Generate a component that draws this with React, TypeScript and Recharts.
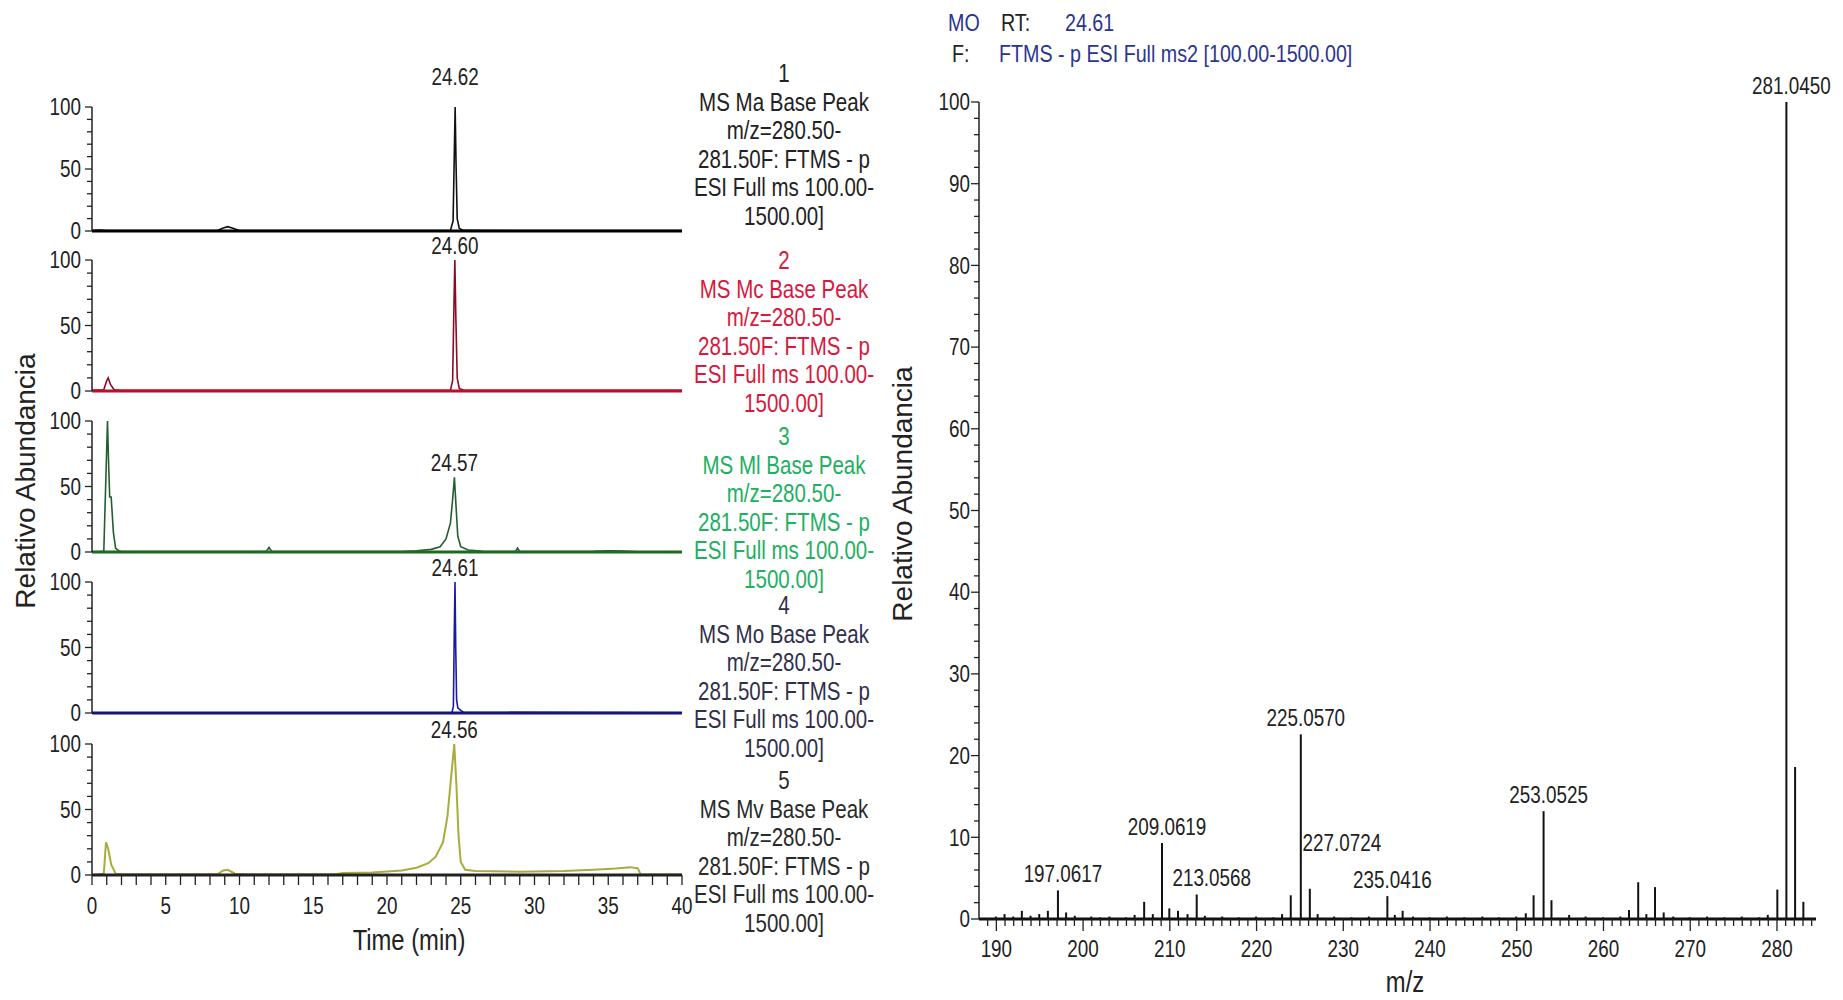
import React from "react";
import {
  LineChart,
  Line,
  XAxis,
  YAxis,
  ReferenceLine,
  ReferenceDot,
  BarChart,
  Bar,
  LabelList,
} from "recharts";

const FONT = '"Liberation Sans", Arial, sans-serif';
const SQ = 0.82; // the source figure is horizontally squeezed

// ---- chromatograms (time in min, relative abundance) ----
const maTrace: [number, number][] = [
  [0, 0.3], [0.5, 0.8], [1, 0.4], [8.5, 0.4], [8.9, 2.5], [9.2, 3.5], [9.6, 2], [10, 0.4],
  [24.3, 0.4], [24.48, 8], [24.56, 60], [24.62, 100], [24.68, 55], [24.76, 10], [24.9, 2],
  [25.2, 0.5], [40, 0.3],
];
const mcTrace: [number, number][] = [
  [0, 0.5], [0.8, 1], [1.0, 8], [1.1, 10], [1.25, 5], [1.5, 1], [2, 0.5], [24.3, 0.5],
  [24.45, 8], [24.53, 60], [24.6, 100], [24.67, 55], [24.76, 10], [24.9, 2], [25.2, 0.5],
  [40, 0.5],
];
const mlTrace: [number, number][] = [
  [0, 0], [0.8, 0.5], [0.95, 60], [1.05, 100], [1.12, 70], [1.2, 42], [1.3, 42], [1.45, 15],
  [1.6, 3], [1.8, 1], [2, 0.3], [11.8, 0.3], [12, 3.5], [12.2, 0.3], [21, 0.3], [22, 1],
  [23, 2], [23.6, 4], [24, 10], [24.3, 22], [24.45, 40], [24.57, 57], [24.68, 35], [24.8, 12],
  [25, 4], [25.5, 1.5], [26.5, 0.5], [28.7, 0.3], [28.85, 3], [29, 0.3], [34, 0.5], [35, 1],
  [36, 0.8], [37, 0.2], [40, 0.2],
];
const moTrace: [number, number][] = [
  [0, 0.2], [24.4, 0.2], [24.5, 5], [24.56, 60], [24.61, 100], [24.66, 50], [24.72, 10],
  [24.8, 4], [25.0, 2], [25.2, 0.5], [40, 0.2],
];
const mvTrace: [number, number][] = [
  [0, 0], [0.8, 1], [0.95, 25], [1.1, 20], [1.3, 8], [1.6, 1], [2, 0.5], [8.5, 0.5],
  [8.9, 3.5], [9.2, 4], [9.7, 1], [10.5, 0.5], [16.5, 0.5], [17, 1.5], [19, 2], [21, 3.5],
  [22, 5.5], [22.8, 9], [23.3, 14], [23.8, 25], [24.1, 45], [24.35, 75], [24.56, 100],
  [24.7, 70], [24.85, 30], [25.0, 10], [25.3, 4], [26, 3], [29, 2.5], [32, 3], [34, 4],
  [35.5, 5], [36.5, 6], [37, 5], [37.2, 0.5], [40, 0.3],
];

const peakTimes = [24.62, 24.6, 24.57, 24.61, 24.56];
const peakHeights = [100, 100, 57, 100, 100];
const sampleCodes = ["Ma", "Mc", "Ml", "Mo", "Mv"];
const timeLabels = [0, 5, 10, 15, 20, 25, 30, 35, 40];
const abundLabels = [0, 50, 100];

// ---- MS2 spectrum ----
const mzValues = [
  189.9, 190.9, 191.9, 192.9, 193.9, 194.9, 195.9, 197.06, 198.0, 199.0, 200.9, 201.9,
  203.0, 204.9, 205.9, 207.0, 208.0, 209.06, 209.9, 210.9, 212.0, 213.06, 214.0, 216.0,
  217.9, 219.9, 221.9, 222.9, 223.9, 225.06, 226.1, 227.0, 228.9, 230.9, 232.9, 235.04,
  235.9, 236.8, 238.0, 239.9, 241.9, 243.9, 246.0, 247.9, 249.9, 251.0, 251.9, 253.05,
  253.96, 256.0, 257.9, 259.9, 261.9, 262.9, 263.96, 264.9, 265.9, 266.9, 268.0, 269.9,
  271.9, 273.9, 275.9, 277.9, 278.9, 280.0, 281.045, 282.05, 283.0,
];
const mzAbund = [
  0.3, 0.6, 0.3, 1.0, 0.4, 0.6, 1.0, 3.5, 0.8, 0.4, 0.3, 0.2,
  0.3, 0.2, 0.5, 2.1, 0.6, 9.3, 1.3, 1.0, 0.6, 3.0, 0.4, 0.3,
  0.2, 0.3, 0.2, 0.6, 2.9, 22.6, 3.7, 0.6, 0.3, 0.2, 0.3, 2.8,
  0.5, 1.0, 0.3, 0.2, 0.3, 0.2, 0.3, 0.2, 0.3, 0.7, 2.9, 13.2,
  2.3, 0.5, 0.3, 0.2, 0.3, 1.1, 4.5, 0.6, 3.9, 0.8, 0.3, 0.2,
  0.3, 0.2, 0.3, 0.2, 0.5, 3.6, 100, 18.6, 2.1,
];
const mzPeakLabels: Record<number, string> = {
  197.06: "197.0617",
  209.06: "209.0619",
  213.06: "213.0568",
  225.06: "225.0570",
  226.1: "227.0724",
  235.04: "235.0416",
  253.05: "253.0525",
  281.045: "281.0450",
};
const mzTickLabels = [190, 200, 210, 220, 230, 240, 250, 260, 270, 280];
const relLabels = [0, 10, 20, 30, 40, 50, 60, 70, 80, 90, 100];

const legendLines = ["m/z=280.50-", "281.50F: FTMS - p", "ESI Full ms 100.00-", "1500.00]"];

const panelStyles = [
  { trace: "#111111", base: "#000000", text: "#222222" },
  { trace: "#8b0a24", base: "#b5122e", text: "#d8183c" },
  { trace: "#245e30", base: "#1e6a1e", text: "#20b060" },
  { trace: "#1a1aa0", base: "#14147a", text: "#30304a" },
  { trace: "#a8ad3a", base: "#222222", text: "#2a2a2a" },
];
const panelTops = [107, 260, 421, 582, 744];
const panelHeights = [124, 131, 131, 131, 131];
const peakLabelOffsets = [22, 6, 6, 6, 6];
const legendTops = [59, 246, 422, 591, 766];
const traces = [maTrace, mcTrace, mlTrace, moTrace, mvTrace];

const minorTime = Array.from({ length: 41 }, (_, i) => i);
const minorAbund = Array.from({ length: 11 }, (_, i) => i * 10);
const minorMz = Array.from({ length: 96 }, (_, i) => 189 + i);
const minorRel = Array.from({ length: 51 }, (_, i) => i * 2);

function SText({ x, y, anchor = "middle", baseline = "auto", size = 23, fill = "#222", children }: any) {
  return (
    <text
      transform={`translate(${x} ${y}) scale(${SQ} 1)`}
      x={0}
      y={0}
      textAnchor={anchor}
      dominantBaseline={baseline}
      fontSize={size}
      fill={fill}
      fontFamily={FONT}
    >
      {children}
    </text>
  );
}

const LeftYTick = (props: any) => {
  const { x, y, payload } = props;
  const major = abundLabels.includes(payload.value);
  return (
    <g>
      <line x1={x - (major ? 7 : 5)} x2={x} y1={y} y2={y} stroke="#222" strokeWidth={1.3} />
      {major && (
        <SText x={x - 11} y={y} anchor="end" baseline="central">
          {payload.value}
        </SText>
      )}
    </g>
  );
};

const TimeTick = (props: any) => {
  const { x, y, payload } = props;
  const major = timeLabels.includes(payload.value);
  return (
    <g>
      <line x1={x} x2={x} y1={y} y2={y + 10} stroke="#222" strokeWidth={1.3} />
      {major && (
        <SText x={x} y={y + 22} baseline="hanging">
          {payload.value}
        </SText>
      )}
    </g>
  );
};

const RelTick = (props: any) => {
  const { x, y, payload } = props;
  const major = relLabels.includes(payload.value);
  return (
    <g>
      <line x1={x - (major ? 8 : 5)} x2={x} y1={y} y2={y} stroke="#222" strokeWidth={1.3} />
      {major && (
        <SText x={x - 9} y={y} anchor="end" baseline="central">
          {payload.value}
        </SText>
      )}
    </g>
  );
};

const MzTick = (props: any) => {
  const { x, y, payload } = props;
  const major = mzTickLabels.includes(payload.value);
  return (
    <g>
      <line x1={x} x2={x} y1={y} y2={y + (major ? 12 : 7)} stroke="#222" strokeWidth={1.3} />
      {major && (
        <SText x={x} y={y + 21} baseline="hanging">
          {payload.value}
        </SText>
      )}
    </g>
  );
};

const MzLabel = (props: any) => {
  const { x, y, width, value } = props;
  if (!value) return null;
  const lift = value === "227.0724" ? 38 : 8;
  const shift = value === "227.0724" ? 32 : value === "213.0568" ? 15 : 5;
  return (
    <SText x={x + width / 2 + shift} y={y - lift}>
      {value}
    </SText>
  );
};

function Panel({ idx }: { idx: number }) {
  const data = traces[idx].map(([t, v]) => ({ t, v }));
  const last = idx === traces.length - 1;
  const st = panelStyles[idx];
  const mt = 60;
  const plotH = panelHeights[idx];
  const xh = last ? 50 : 0;
  const mb = last ? 2 : 14;
  const off = peakLabelOffsets[idx];
  return (
    <div style={{ position: "absolute", left: 0, top: panelTops[idx] - mt }}>
      <LineChart
        width={700}
        height={mt + plotH + xh + mb}
        data={data}
        margin={{ top: mt, right: 18, bottom: mb, left: 0 }}
      >
        <XAxis
          type="number"
          dataKey="t"
          domain={[0, 40]}
          ticks={minorTime}
          interval={0}
          hide={!last}
          height={xh}
          axisLine={{ stroke: st.base, strokeWidth: 3 }}
          tickLine={false}
          tickSize={0}
          tickMargin={0}
          tick={<TimeTick />}
        />
        <YAxis
          type="number"
          domain={[0, 100]}
          ticks={minorAbund}
          interval={0}
          width={92}
          axisLine={{ stroke: "#222", strokeWidth: 1.5 }}
          tickLine={false}
          tickSize={0}
          tickMargin={0}
          tick={<LeftYTick />}
        />
        <Line
          type="linear"
          dataKey="v"
          stroke={st.trace}
          strokeWidth={last ? 2 : 1.6}
          dot={false}
          isAnimationActive={false}
        />
        {!last && <ReferenceLine y={0} stroke={st.base} strokeWidth={3} />}
        <ReferenceDot
          x={peakTimes[idx]}
          y={peakHeights[idx]}
          r={0.01}
          fill="none"
          stroke="none"
          label={(p: any) => {
            const vb = p.viewBox || {};
            return (
              <SText x={(vb.x || 0) + (vb.width || 0) / 2} y={(vb.y || 0) - off}>
                {peakTimes[idx].toFixed(2)}
              </SText>
            );
          }}
        />
      </LineChart>
    </div>
  );
}

function Legend({ idx }: { idx: number }) {
  const lines = [String(idx + 1), `MS ${sampleCodes[idx]} Base Peak`, ...legendLines];
  return (
    <div
      style={{
        position: "absolute",
        left: 634,
        top: legendTops[idx],
        width: 300,
        textAlign: "center",
        color: panelStyles[idx].text,
        fontFamily: FONT,
        fontSize: 25,
        lineHeight: "28.5px",
        whiteSpace: "nowrap",
        transform: `scaleX(${SQ})`,
        transformOrigin: "center",
      }}
    >
      {lines.map((l, i) => (
        <div key={i}>{l}</div>
      ))}
    </div>
  );
}

const headStyle = (left: number, top: number, color: string): React.CSSProperties => ({
  position: "absolute",
  left,
  top,
  fontFamily: FONT,
  fontSize: 24,
  color,
  whiteSpace: "nowrap",
  transform: `scaleX(${SQ})`,
  transformOrigin: "left center",
});

export default function App() {
  const spectrum = mzValues.map((mz, i) => ({ mz, ab: mzAbund[i], label: mzPeakLabels[mz] || "" }));
  return (
    <div style={{ position: "absolute", left: 0, top: 0, width: 1843, height: 1000, background: "#fff", overflow: "hidden" }}>
      {traces.map((_, i) => (
        <Panel key={i} idx={i} />
      ))}
      {traces.map((_, i) => (
        <Legend key={i} idx={i} />
      ))}
      <div
        style={{
          position: "absolute",
          left: 26,
          top: 481,
          transform: "translate(-50%, -50%) rotate(-90deg)",
          fontFamily: FONT,
          fontSize: 28,
          color: "#222",
          whiteSpace: "nowrap",
        }}
      >
        Relativo Abundancia
      </div>
      <div
        style={{
          position: "absolute",
          left: 409,
          top: 940,
          transform: `translate(-50%, -50%) scaleX(${SQ})`,
          fontFamily: FONT,
          fontSize: 29,
          color: "#222",
          whiteSpace: "nowrap",
        }}
      >
        Time (min)
      </div>

      {/* spectrum header */}
      <div style={headStyle(948, 9, "#2a3590")}>MO</div>
      <div style={headStyle(1001, 9, "#222")}>RT:</div>
      <div style={headStyle(1065, 9, "#2a3590")}>24.61</div>
      <div style={headStyle(952, 40, "#222")}>F:</div>
      <div style={headStyle(999, 40, "#2a3590")}>FTMS - p ESI Full ms2 [100.00-1500.00]</div>

      <div style={{ position: "absolute", left: 880, top: 0 }}>
        <BarChart width={956} height={1000} data={spectrum} margin={{ top: 102, right: 20, bottom: 41, left: 40 }}>
          <XAxis
            type="number"
            dataKey="mz"
            domain={[188, 284.5]}
            allowDataOverflow
            ticks={minorMz}
            interval={0}
            height={40}
            axisLine={{ stroke: "#111", strokeWidth: 3 }}
            tickLine={false}
            tickSize={0}
            tickMargin={0}
            tick={<MzTick />}
          />
          <YAxis
            type="number"
            domain={[0, 100]}
            ticks={minorRel}
            interval={0}
            width={59}
            axisLine={{ stroke: "#222", strokeWidth: 1.5 }}
            tickLine={false}
            tickSize={0}
            tickMargin={0}
            tick={<RelTick />}
          />
          <Bar dataKey="ab" fill="#111" barSize={2} isAnimationActive={false}>
            <LabelList dataKey="label" content={<MzLabel />} />
          </Bar>
        </BarChart>
      </div>
      <div
        style={{
          position: "absolute",
          left: 903,
          top: 494,
          transform: "translate(-50%, -50%) rotate(-90deg)",
          fontFamily: FONT,
          fontSize: 28,
          color: "#222",
          whiteSpace: "nowrap",
        }}
      >
        Relativo Abundancia
      </div>
      <div
        style={{
          position: "absolute",
          left: 1405,
          top: 982,
          transform: `translate(-50%, -50%) scaleX(${SQ})`,
          fontFamily: FONT,
          fontSize: 29,
          color: "#222",
          whiteSpace: "nowrap",
        }}
      >
        m/z
      </div>
    </div>
  );
}
